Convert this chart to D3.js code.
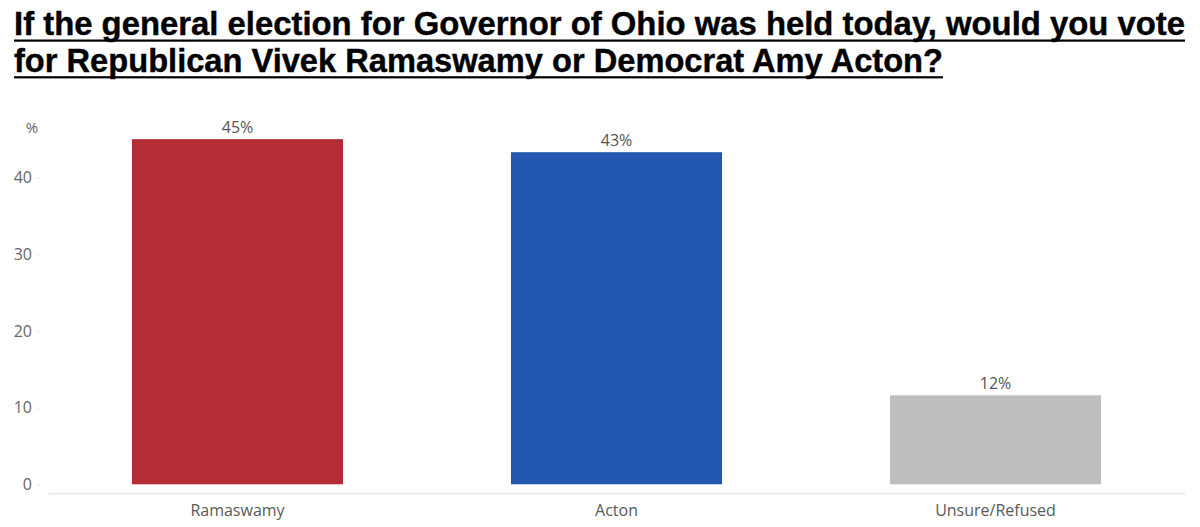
<!DOCTYPE html>
<html><head><meta charset="utf-8">
<script src="https://cdn.jsdelivr.net/npm/d3@7"></script>
<style>body{margin:0;background:#fff}svg{display:block}</style>
</head><body>
<svg id="chart" width="1200" height="527"></svg>
<script>
const titleLines = ["If the general election for Governor of Ohio was held today, would you vote",
                    "for Republican Vivek Ramaswamy or Democrat Amy Acton?"];
const categories = ["Ramaswamy", "Acton", "Unsure/Refused"];
const values = [45, 43.3, 11.6];
const valueLabels = ["45%", "43%", "12%"];
const colors = ["#B52B36", "#2457B0", "#BEBEBE"];
const yTicks = [0, 10, 20, 30, 40];

const svg = d3.select("#chart");

// Title
const tg = svg.append("g");
titleLines.forEach((t, i) => {
  const by = 35 + i * 36.7;
  const txt = tg.append("text").attr("x", 14).attr("y", by)
    .attr("font-family", "Liberation Sans, Arial, sans-serif")
    .attr("font-weight", "bold").attr("font-size", 32.5).attr("fill", "#000")
    .attr("stroke", "#000").attr("stroke-width", 0.4).text(t);
  const target = i === 0 ? 1171 : 929;
  txt.attr("textLength", target).attr("lengthAdjust", "spacingAndGlyphs");
  tg.append("rect").attr("x", 14).attr("y", by + 4.5).attr("width", target).attr("height", 2.2).attr("fill", "#000");
});

// Scales
const x = d3.scaleBand().domain(categories).range([48, 1185]).paddingInner(0.443).paddingOuter(0.2215);
const y0 = 484.3, perUnit = 7.67;
const y = d3.scaleLinear().domain([0, 45]).range([y0, y0 - 45 * perUnit]);

// Y axis
const yAxis = d3.axisLeft(y).tickValues(yTicks).tickSize(3).tickPadding(5);
const yg = svg.append("g").attr("transform", "translate(40,0)").call(yAxis);
yg.select(".domain").remove();
yg.selectAll(".tick line").attr("stroke", "#e6e6e6");
yg.selectAll(".tick text").attr("font-family", "Open Sans, sans-serif").attr("font-size", 16).attr("fill", "#666");
svg.append("text").attr("x", 32).attr("y", 133).attr("text-anchor", "middle")
  .attr("font-family", "Open Sans, sans-serif").attr("font-size", 15).attr("fill", "#666").text("%");

// Bars
svg.selectAll("rect.bar").data(categories).join("rect").attr("class", "bar")
  .attr("x", d => x(d)).attr("width", x.bandwidth())
  .attr("y", (d, i) => y(values[i])).attr("height", (d, i) => y0 - y(values[i]))
  .attr("fill", (d, i) => colors[i]);

svg.selectAll("text.vl").data(categories).join("text").attr("class", "vl")
  .attr("x", d => x(d) + x.bandwidth() / 2).attr("y", (d, i) => y(values[i]) - 6)
  .attr("text-anchor", "middle").attr("font-family", "Open Sans, sans-serif")
  .attr("font-size", 16).attr("fill", "#555").text((d, i) => valueLabels[i]);

// X axis
const xAxis = d3.axisBottom(x).tickSize(0).tickPadding(11);
const xg = svg.append("g").attr("transform", "translate(0,493.3)").call(xAxis);
xg.select(".domain").attr("stroke", "#e0e0e0");
xg.selectAll(".tick text").attr("font-family", "Open Sans, sans-serif").attr("font-size", 16).attr("fill", "#595959");
</script>
</body></html>
